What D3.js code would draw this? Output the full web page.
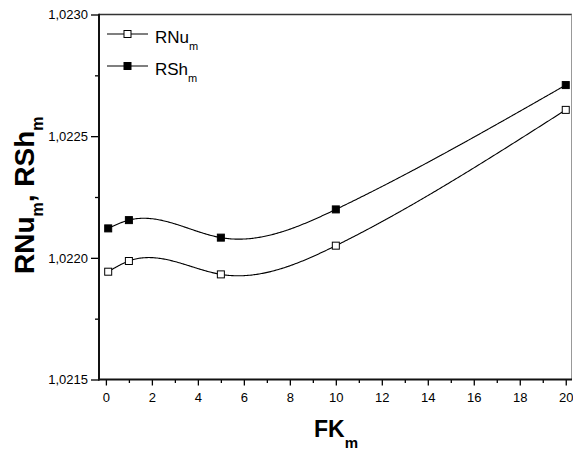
<!DOCTYPE html>
<html><head><meta charset="utf-8">
<script src="https://cdn.jsdelivr.net/npm/d3@7"></script>
<style>
html,body{margin:0;padding:0;background:#fff;}
text{font-family:Arial,"Liberation Sans",sans-serif;fill:#000;}
</style></head>
<body>
<svg id="chart" width="573" height="452"></svg>
<script>
const fkValues = [0.1, 1, 5, 10, 20];
const rnuValues = [1.021943, 1.021987, 1.021932, 1.022050, 1.022608];
const rshValues = [1.022121, 1.022155, 1.022083, 1.022199, 1.022710];
const xTickValues = [0, 2, 4, 6, 8, 10, 12, 14, 16, 18, 20];
const xMinorTickValues = [1, 3, 5, 7, 9, 11, 13, 15, 17, 19];
const yTickValues = [1.0215, 1.0220, 1.0225, 1.0230];
const yMinorTickValues = [1.02175, 1.02225, 1.02275];
const seriesNames = ["RNu", "RSh"];

const svg = d3.select("#chart");
const L = 99, R = 571.5, T = 14.5, B = 379.5;
const x = d3.scaleLinear().domain([-0.3, 20.25]).range([L, R]);
const y = d3.scaleLinear().domain([1.0215, 1.0230]).range([B, T]);

// natural cubic spline in data space
function spline(xs, ys, n) {
  const k = xs.length;
  const h = [], al = [], l = [1], mu = [0], z = [0], c = new Array(k).fill(0), b = [], d = [];
  for (let i = 0; i < k - 1; i++) h[i] = xs[i + 1] - xs[i];
  for (let i = 1; i < k - 1; i++) al[i] = 3 / h[i] * (ys[i + 1] - ys[i]) - 3 / h[i - 1] * (ys[i] - ys[i - 1]);
  for (let i = 1; i < k - 1; i++) {
    l[i] = 2 * (xs[i + 1] - xs[i - 1]) - h[i - 1] * mu[i - 1];
    mu[i] = h[i] / l[i];
    z[i] = (al[i] - h[i - 1] * z[i - 1]) / l[i];
  }
  l[k - 1] = 1; z[k - 1] = 0; c[k - 1] = 0;
  for (let j = k - 2; j >= 0; j--) {
    c[j] = z[j] - mu[j] * c[j + 1];
    b[j] = (ys[j + 1] - ys[j]) / h[j] - h[j] * (c[j + 1] + 2 * c[j]) / 3;
    d[j] = (c[j + 1] - c[j]) / (3 * h[j]);
  }
  const pts = [];
  for (let s = 0; s <= n; s++) {
    const xv = xs[0] + (xs[k - 1] - xs[0]) * s / n;
    let j = 0;
    while (j < k - 2 && xv > xs[j + 1]) j++;
    const dx = xv - xs[j];
    pts.push([xv, ys[j] + b[j] * dx + c[j] * dx * dx + d[j] * dx * dx * dx]);
  }
  return pts;
}

const line = d3.line().x(p => x(p[0])).y(p => y(p[1]));

// frame: top and right
svg.append("line").attr("x1", L).attr("x2", R + 0.5).attr("y1", T).attr("y2", T)
  .attr("stroke", "#333").attr("stroke-width", 1.6);
svg.append("line").attr("x1", R).attr("x2", R).attr("y1", T).attr("y2", B)
  .attr("stroke", "#999").attr("stroke-width", 1);

// x axis
const xAxis = svg.append("g").attr("transform", `translate(0,${B})`)
  .call(d3.axisBottom(x).tickValues(xTickValues).tickSize(6).tickPadding(7).tickFormat(d3.format("d")));
xAxis.select(".domain").remove();
xAxis.selectAll(".tick line").attr("stroke", "#000").attr("stroke-width", 1.3);
xAxis.selectAll("text").attr("font-size", "13px").attr("font-family", "Arial, 'Liberation Sans', sans-serif");
const xMinor = svg.append("g").attr("transform", `translate(0,${B})`)
  .call(d3.axisBottom(x).tickValues(xMinorTickValues).tickSize(3.5).tickFormat(""));
xMinor.select(".domain").remove();
xMinor.selectAll(".tick line").attr("stroke", "#000").attr("stroke-width", 1.3);

// y axis
const yFmt = v => d3.format(".4f")(v).replace(".", ",");
const yAxis = svg.append("g").attr("transform", `translate(${L},0)`)
  .call(d3.axisLeft(y).tickValues(yTickValues).tickSize(8).tickPadding(3).tickFormat(yFmt));
yAxis.select(".domain").remove();
yAxis.selectAll(".tick line").attr("stroke", "#000").attr("stroke-width", 1.3);
yAxis.selectAll("text").attr("font-size", "13px").attr("font-family", "Arial, 'Liberation Sans', sans-serif");
const yMinor = svg.append("g").attr("transform", `translate(${L},0)`)
  .call(d3.axisLeft(y).tickValues(yMinorTickValues).tickSize(4).tickFormat(""));
yMinor.select(".domain").remove();
yMinor.selectAll(".tick line").attr("stroke", "#000").attr("stroke-width", 1.3);

// axis lines
svg.append("line").attr("x1", L).attr("x2", L).attr("y1", T - 0.8).attr("y2", B + 1)
  .attr("stroke", "#111").attr("stroke-width", 2);
svg.append("line").attr("x1", L - 1).attr("x2", R + 0.5).attr("y1", B).attr("y2", B)
  .attr("stroke", "#111").attr("stroke-width", 2);

// series
const series = [
  { name: seriesNames[0], vals: rnuValues, fill: "#fff" },
  { name: seriesNames[1], vals: rshValues, fill: "#000" }
];
series.forEach(s => {
  svg.append("path").datum(spline(fkValues, s.vals, 400))
    .attr("d", line).attr("fill", "none").attr("stroke", "#000").attr("stroke-width", 1.1);
  svg.selectAll(null).data(fkValues.map((f, i) => [f, s.vals[i]])).enter()
    .append("rect")
    .attr("x", d => x(d[0]) - 3.5).attr("y", d => y(d[1]) - 3.5)
    .attr("width", 7).attr("height", 7)
    .attr("fill", s.fill).attr("stroke", "#000").attr("stroke-width", 1);
});

// legend
const legY = [34, 66];
series.forEach((s, i) => {
  const g = svg.append("g");
  g.append("line").attr("x1", 107).attr("x2", 148).attr("y1", legY[i]).attr("y2", legY[i])
    .attr("stroke", "#000").attr("stroke-width", 1.1);
  g.append("rect").attr("x", 127.5 - 3.5).attr("y", legY[i] - 3.5).attr("width", 7).attr("height", 7)
    .attr("fill", s.fill).attr("stroke", "#000").attr("stroke-width", 1);
  const t = g.append("text").attr("x", 155).attr("y", legY[i] + 8.5).attr("font-size", "17px");
  t.append("tspan").text(s.name);
  t.append("tspan").attr("dy", 7).attr("font-size", "11px").text("m");
});

// axis titles
const xt = svg.append("text").attr("x", 314).attr("y", 437)
  .attr("font-size", "23px").attr("font-weight", "bold");
xt.append("tspan").text("FK");
xt.append("tspan").attr("dy", 11).attr("font-size", "15px").text("m");

const yt = svg.append("text").attr("transform", "translate(34,274) rotate(-90)")
  .attr("font-size", "28px").attr("font-weight", "bold");
yt.append("tspan").text("RNu");
yt.append("tspan").attr("dy", 9).attr("font-size", "16px").text("m");
yt.append("tspan").attr("dy", -9).text(", RSh");
yt.append("tspan").attr("dy", 9).attr("font-size", "16px").text("m");
</script>
</body></html>
